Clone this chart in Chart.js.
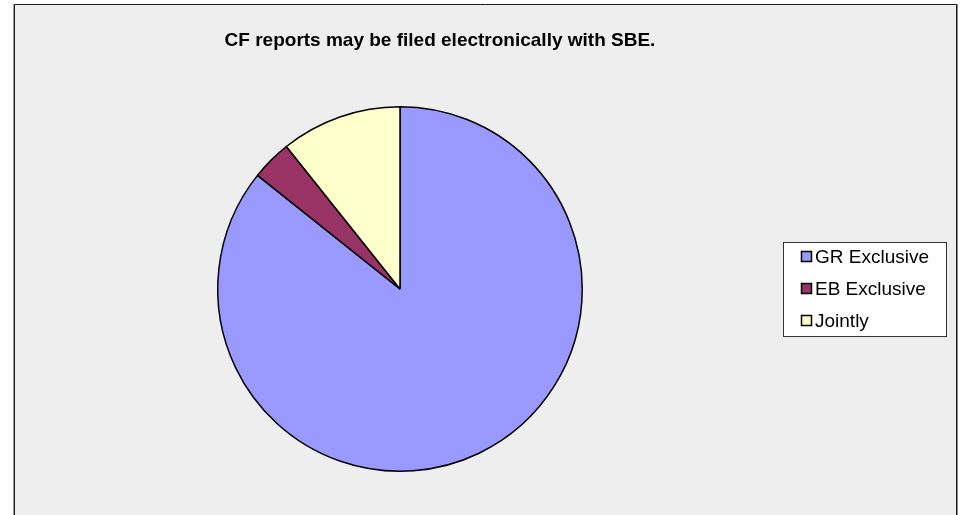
<!DOCTYPE html>
<html>
<head>
<meta charset="utf-8">
<script src="https://cdn.jsdelivr.net/npm/chart.js@4/dist/chart.umd.min.js"></script>
<style>
  html, body { margin: 0; padding: 0; background: #fff; }
  canvas { display: block; }
</style>
</head>
<body>
<canvas id="pie" width="961" height="515"></canvas>
<script>
// ── Data ───────────────────────────────────────────────────────────────
const titleText = 'CF reports may be filed electronically with SBE.';
const categories = ['GR Exclusive', 'EB Exclusive', 'Jointly'];
const counts = [24, 1, 3];
const sliceColors = ['#9999ff', '#993366', '#ffffcc'];

const font = "'Liberation Sans', Arial, sans-serif";

// frame, title and boxed legend drawn around the pie
const excelFrame = {
    id: 'excelFrame',
    beforeDraw(chart) {
        const c = chart.ctx;
        c.save();
        c.fillStyle = '#ffffff';
        c.fillRect(0, 0, chart.width, chart.height);
        c.fillStyle = '#eeeeee';
        c.fillRect(14, 4, 943, chart.height);
        c.strokeStyle = '#999999';
        c.lineWidth = 1;
        c.beginPath(); c.moveTo(13.5, 4); c.lineTo(13.5, chart.height); c.stroke();
        c.strokeStyle = '#1a1a1a';
        c.beginPath();
        c.moveTo(14.5, chart.height); c.lineTo(14.5, 4.5); c.lineTo(956.5, 4.5); c.lineTo(956.5, chart.height);
        c.stroke();
        c.strokeStyle = '#888888';
        c.beginPath(); c.moveTo(957.5, 4); c.lineTo(957.5, chart.height); c.stroke();
        c.restore();
    },
    afterDraw(chart) {
        const c = chart.ctx;
        c.save();
        // title
        c.fillStyle = '#000';
        c.font = 'bold 19px ' + font;
        c.textAlign = 'center';
        c.textBaseline = 'alphabetic';
        c.fillText(titleText, 440, 46);

        // legend box
        c.fillStyle = '#ffffff';
        c.fillRect(783, 242, 164, 95);
        c.strokeStyle = '#333333';
        c.lineWidth = 1;
        c.strokeRect(783.5, 242.5, 163, 94);

        c.font = '19px ' + font;
        c.textAlign = 'left';
        c.textBaseline = 'alphabetic';
        categories.forEach((name, i) => {
            const base = 263 + i * 32;
            c.fillStyle = sliceColors[i];
            c.fillRect(801.5, base - 11.5, 10, 10);
            c.strokeStyle = '#000';
            c.lineWidth = 1.5;
            c.strokeRect(801.5, base - 11.5, 10, 10);
            c.fillStyle = '#000';
            c.fillText(name, 815, base);
        });
        c.restore();
    }
};

new Chart(document.getElementById('pie'), {
    type: 'pie',
    data: {
        labels: categories,
        datasets: [{
            data: counts,
            backgroundColor: sliceColors,
            borderColor: '#000000',
            borderWidth: 1.5
        }]
    },
    options: {
        responsive: false,
        animation: false,
        layout: { padding: { top: 106, bottom: 43, left: 217, right: 378 } },
        plugins: {
            legend: { display: false },
            title: { display: false },
            tooltip: { enabled: false }
        }
    },
    plugins: [excelFrame]
});
</script>
</body>
</html>
